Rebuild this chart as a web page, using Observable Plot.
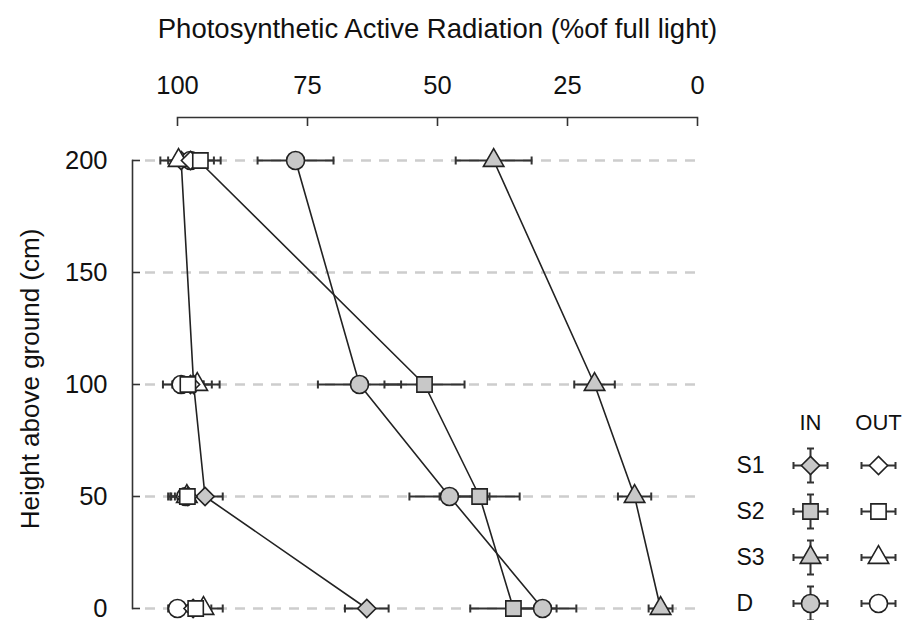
<!DOCTYPE html>
<html>
<head>
<meta charset="utf-8">
<script src="https://cdn.jsdelivr.net/npm/d3@7"></script>
<script src="https://cdn.jsdelivr.net/npm/@observablehq/plot@0.6"></script>
<style>
  html, body { margin: 0; padding: 0; background: #fff; }
  #wrap { position: relative; width: 911px; height: 620px; overflow: hidden; }
  #main { position: absolute; left: 0; top: 0; }
  #legend { position: absolute; left: 720px; top: 400px; }
</style>
</head>
<body>
<div id="wrap"><div id="main"></div><div id="legend"></div></div>
<script>
// ---- data (heights in cm; values in % of full light) ----
const heights = [0, 50, 100, 200];
const xTicks = [100, 75, 50, 25, 0];
const yTicks = [0, 50, 100, 150, 200];
const seriesNames = ["S1", "S2", "S3", "D"];
const groups = ["IN", "OUT"];

const s1In     = [63.6, 94.7, 96.9, 99.3];
const s1InErr  = [4.2, 3.4, 3.5, 2.5];
const s2In     = [35.4, 41.9, 52.5, 96.0];
const s2InErr  = [8.3, 7.7, 7.7, 3.0];
const s3In     = [7.1, 12.1, 19.8, 39.2];
const s3InErr  = [2.3, 3.2, 3.9, 7.3];
const dIn      = [29.8, 47.7, 65.0, 77.3];
const dInErr   = [6.5, 7.7, 8.0, 7.3];

const s1Out    = [97.0, 98.0, 97.5, 97.5];
const s1OutErr = [2.5, 2.5, 2.5, 2.5];
const s2Out    = [96.5, 98.1, 98.0, 95.6];
const s2OutErr = [3.0, 3.7, 3.0, 3.9];
const s3Out    = [95.0, 98.2, 96.2, 99.8];
const s3OutErr = [3.7, 3.0, 4.3, 3.5];
const dOut     = [100.0, 98.4, 99.3, 97.5];
const dOutErr  = [1.8, 3.0, 3.5, 3.0];

const title = "Photosynthetic Active Radiation (%of full light)";
const yTitle = "Height above ground (cm)";

// ---- build table ----
const valueTable = {
  IN:  {S1: [s1In, s1InErr], S2: [s2In, s2InErr], S3: [s3In, s3InErr], D: [dIn, dInErr]},
  OUT: {S1: [s1Out, s1OutErr], S2: [s2Out, s2OutErr], S3: [s3Out, s3OutErr], D: [dOut, dOutErr]}
};
const rows = [];
for (const g of groups) for (const s of seriesNames) {
  const [vals, errs] = valueTable[g][s];
  heights.forEach((h, i) => rows.push({group: g, series: s, h, v: vals[i], e: errs[i]}));
}

const FONT = "'Liberation Sans', Arial, Helvetica, sans-serif";
const GRAY = "#c8c8c8";
const INK = "#222";
const symbolOf = {S1: "diamond2", S2: "square", S3: "triangle", D: "circle"};
const rOf = {S1: 8.2, S2: 8.6, S3: 7.6, D: 9};
// drawing order: IN markers first, then OUT markers
const drawOrder = [
  ["IN", "S1"], ["IN", "S2"], ["IN", "S3"], ["IN", "D"],
  ["OUT", "D"], ["OUT", "S3"], ["OUT", "S1"], ["OUT", "S2"]
];

const capSymbol = {draw(ctx, size) { const r = Math.sqrt(size / Math.PI); ctx.moveTo(0, -r); ctx.lineTo(0, r); }};
const hBarSymbol = {draw(ctx, size) {
  const r = Math.sqrt(size / Math.PI), c = 3.5;
  ctx.moveTo(-r, 0); ctx.lineTo(r, 0);
  ctx.moveTo(-r, -c); ctx.lineTo(-r, c);
  ctx.moveTo(r, -c); ctx.lineTo(r, c);
}};
const vBarSymbol = {draw(ctx, size) {
  const r = Math.sqrt(size / Math.PI), c = 3.5;
  ctx.moveTo(0, -r); ctx.lineTo(0, r);
  ctx.moveTo(-c, -r); ctx.lineTo(c, -r);
  ctx.moveTo(-c, r); ctx.lineTo(c, r);
}};

function markerMarks(data, opts = {}) {
  return drawOrder.map(([g, s]) => Plot.dot(
    data.filter(d => d.group === g && d.series === s), {
      ...opts,
      symbol: symbolOf[s], r: rOf[s],
      fill: g === "IN" ? GRAY : "white",
      stroke: INK, strokeWidth: 1.6
    }));
}

const main = Plot.plot({
  width: 911, height: 620,
  marginTop: 125, marginBottom: 12, marginLeft: 177, marginRight: 214,
  x: {domain: [100, 0], axis: null},
  y: {domain: [0, 200], range: [608, 160], axis: null},
  style: {fontFamily: FONT, fontSize: "25px", color: "#111", background: "transparent", overflow: "visible"},
  marks: [
    Plot.ruleY(yTicks, {stroke: "#cdcdcd", strokeWidth: 2.5, strokeDasharray: "10,8", insetLeft: -32}),
    Plot.frame({anchor: "top", insetTop: -8, stroke: "#333", strokeWidth: 1.6}),
    Plot.frame({anchor: "left", insetLeft: -45, insetTop: 35, stroke: "#333", strokeWidth: 1.6}),
    Plot.ruleY(yTicks, {insetLeft: -45, insetRight: 557, stroke: "#333", strokeWidth: 1.6}),
    Plot.axisX({anchor: "top", ticks: xTicks, tickSize: 8, tickPadding: 24, label: null, fontSize: 25.5, stroke: "#333", strokeWidth: 1.6}),
    Plot.text(yTicks, {y: d => d, text: d => String(d), frameAnchor: "left", textAnchor: "end", lineAnchor: "middle", dx: -70, dy: 0, fontSize: 25.5}),
    Plot.text([title], {text: d => d, frameAnchor: "top", textAnchor: "middle", lineAnchor: "bottom", dy: -88, fontSize: 27.5}),
    Plot.text([yTitle], {text: d => d, frameAnchor: "left", textAnchor: "middle", lineAnchor: "middle", rotate: -90, dx: -147, dy: 12, fontSize: 26}),
    Plot.line(rows.filter(d => d.group === "IN"), {x: "v", y: "h", z: "series", stroke: INK, strokeWidth: 1.6}),
    Plot.ruleY(rows, {y: "h", x1: d => d.v - d.e, x2: d => d.v + d.e, stroke: "#333", strokeWidth: 2}),
    Plot.dot(rows, {x: d => d.v - d.e, y: "h", symbol: capSymbol, r: 4, stroke: "#333", fill: "none", strokeWidth: 2}),
    Plot.dot(rows, {x: d => d.v + d.e, y: "h", symbol: capSymbol, r: 4, stroke: "#333", fill: "none", strokeWidth: 2}),
    ...markerMarks(rows, {x: "v", y: "h"})
  ]
});
document.getElementById("main").appendChild(main);

// ---- legend ----
const legendRows = [];
for (const s of seriesNames) for (const g of groups) legendRows.push({series: s, group: g});

const legend = Plot.plot({
  width: 191, height: 220, margin: 0,
  x: {type: "point", domain: groups, range: [90, 158], padding: 0, axis: null},
  y: {type: "point", domain: seriesNames, range: [64, 203], padding: 0, axis: null},
  style: {fontFamily: FONT, color: "#111", background: "transparent", overflow: "visible"},
  marks: [
    Plot.text(groups, {x: d => d, text: d => d, frameAnchor: "top", textAnchor: "middle", lineAnchor: "middle", dy: 22, fontSize: 22}),
    Plot.text(seriesNames, {y: d => d, text: d => d, frameAnchor: "left", textAnchor: "start", lineAnchor: "middle", dx: 16, fontSize: 23}),
    Plot.dot(legendRows, {x: "group", y: "series", symbol: hBarSymbol, r: 17, stroke: "#333", fill: "none", strokeWidth: 2}),
    Plot.dot(legendRows.filter(d => d.group === "IN"), {x: "group", y: "series", symbol: vBarSymbol, r: 17, stroke: "#333", fill: "none", strokeWidth: 2}),
    ...markerMarks(legendRows, {x: "group", y: "series"})
  ]
});
document.getElementById("legend").appendChild(legend);
</script>
</body>
</html>
